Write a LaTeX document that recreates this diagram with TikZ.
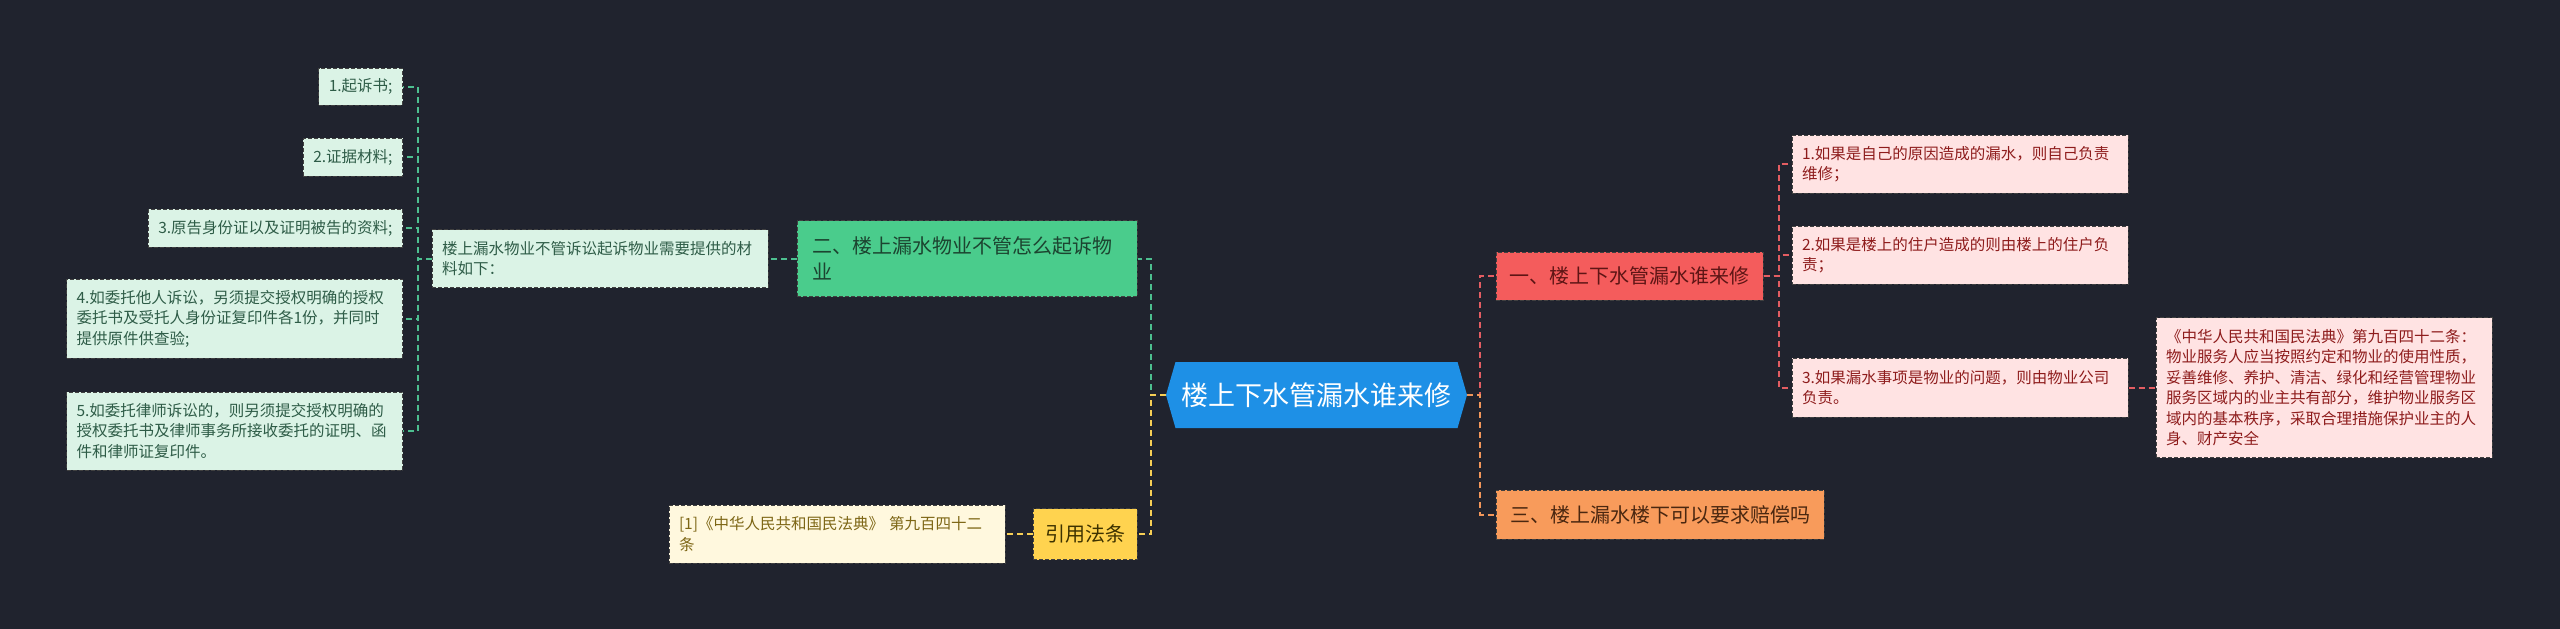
\documentclass[tikz,border=0pt]{standalone}
\usepackage{fontspec}
\setmainfont{Noto Sans CJK SC}
\usetikzlibrary{shapes.symbols}
\definecolor{bgdark}{HTML}{20232E}
\definecolor{rootblue}{HTML}{1E90E6}
\definecolor{redfill}{HTML}{F45C5C}
\definecolor{reddeep}{HTML}{5E1515}
\definecolor{redpale}{HTML}{FFE3E3}
\definecolor{redtext}{HTML}{8E1C1C}
\definecolor{redline}{HTML}{E35D62}
\definecolor{grnfill}{HTML}{4ACC8C}
\definecolor{grndeep}{HTML}{1C4430}
\definecolor{grnpale}{HTML}{DBF3E6}
\definecolor{grntext}{HTML}{2E5C47}
\definecolor{grnline}{HTML}{4DBF90}
\definecolor{orgfill}{HTML}{F89B5B}
\definecolor{orgtext}{HTML}{4A2710}
\definecolor{orgline}{HTML}{F2965A}
\definecolor{yelfill}{HTML}{FFD34F}
\definecolor{yeldeep}{HTML}{3D3200}
\definecolor{yelpale}{HTML}{FFF8DE}
\definecolor{yeltext}{HTML}{7D6615}
\definecolor{yelline}{HTML}{F6CE55}
\tikzset{
  box/.style={rectangle,draw=black!75,dash pattern=on 4pt off 2pt,line width=1pt,inner xsep=10pt,inner ysep=0pt,align=left},
  leaf/.style={box,font=\fontsize{15.5}{20.5}\selectfont,minimum height=#1},
  wleaf/.style={leaf=#1,text width=316pt},
  branch/.style={box,font=\fontsize{20}{26}\selectfont,inner xsep=0pt,minimum height=#1},
  link/.style={draw=#1,dash pattern=on 6pt off 4pt,line width=2pt},
}
\begin{document}
\begin{tikzpicture}[x=1pt,y=-1pt]
\fill[bgdark] (0,0) rectangle (2560,629);
\useasboundingbox (0,0) rectangle (2560,629);
\node[signal,signal to=west and east,signal pointer angle=148,fill=rootblue,text=white,font=\fontsize{27}{32}\selectfont,minimum width=301pt,minimum height=66pt,inner sep=0pt] (root) at (1316.5,395) {楼上下水管漏水谁来修};
\node[branch=48pt,minimum width=267pt,fill=redfill,text=reddeep] (one) at (1629.5,276) {一、楼上下水管漏水谁来修};
\node[branch=49pt,minimum width=328pt,fill=orgfill,text=orgtext] (three) at (1660,514.5) {三、楼上漏水楼下可以要求赔偿吗};
\node[wleaf=58pt,fill=redpale,text=redtext] (r1) at (1960,164) {1.如果是自己的原因造成的漏水，则自己负责\\维修；};
\node[wleaf=58pt,fill=redpale,text=redtext] (r2) at (1960,255) {2.如果是楼上的住户造成的则由楼上的住户负\\责；};
\node[wleaf=59pt,fill=redpale,text=redtext] (r3) at (1960,387.5) {3.如果漏水事项是物业的问题，则由物业公司\\负责。};
\node[wleaf=140pt,fill=redpale,text=redtext] (law) at (2324,387.5) {《中华人民共和国民法典》第九百四十二条：\\物业服务人应当按照约定和物业的使用性质，\\妥善维修、养护、清洁、绿化和经营管理物业\\服务区域内的业主共有部分，维护物业服务区\\域内的基本秩序，采取合理措施保护业主的人\\身、财产安全};
\node[branch=76pt,text width=310pt,inner xsep=15pt,fill=grnfill,text=grndeep] (two) at (967,258.5) {二、楼上漏水物业不管怎么起诉物\\业};
\node[wleaf=58pt,fill=grnpale,text=grntext] (need) at (600,258.5) {楼上漏水物业不管诉讼起诉物业需要提供的材\\料如下：};
\node[leaf=37pt,anchor=east,fill=grnpale,text=grntext] (l1) at (403,86.5) {1.起诉书;};
\node[leaf=38pt,anchor=east,fill=grnpale,text=grntext] (l2) at (403,157) {2.证据材料;};
\node[leaf=38pt,anchor=east,fill=grnpale,text=grntext] (l3) at (403,228) {3.原告身份证以及证明被告的资料;};
\node[wleaf=79pt,anchor=east,fill=grnpale,text=grntext] (l4) at (403,318.5) {4.如委托他人诉讼，另须提交授权明确的授权\\委托书及受托人身份证复印件各1份，并同时\\提供原件供查验;};
\node[wleaf=78pt,anchor=east,fill=grnpale,text=grntext] (l5) at (403,431) {5.如委托律师诉讼的，则另须提交授权明确的\\授权委托书及律师事务所接收委托的证明、函\\件和律师证复印件。};
\node[branch=51pt,minimum width=104pt,fill=yelfill,text=yeldeep] (cite) at (1085,534) {引用法条};
\node[wleaf=58pt,fill=yelpale,text=yeltext] (src) at (837,534) {[1]《中华人民共和国民法典》 第九百四十二\\条};
\draw[link=redline] (root.east) -- ++(13,0) |- (one.west);
\draw[link=orgline] (root.east) -- ++(13,0) |- (three.west);
\foreach \n in {r1,r2,r3} \draw[link=redline] (one.east) -- ++(15,0) |- (\n.west);
\draw[link=redline] (r3.east) -- (law.west);
\draw[link=grnline] (root.west) -- ++(-15,0) |- (two.east);
\draw[link=yelline] (root.west) -- ++(-15,0) |- (cite.east);
\draw[link=grnline] (two.west) -- (need.east);
\foreach \n in {l1,l2,l3,l4,l5} \draw[link=grnline] (need.west) -- ++(-14,0) |- (\n.east);
\draw[link=yelline] (cite.west) -- (src.east);
\end{tikzpicture}
\end{document}
